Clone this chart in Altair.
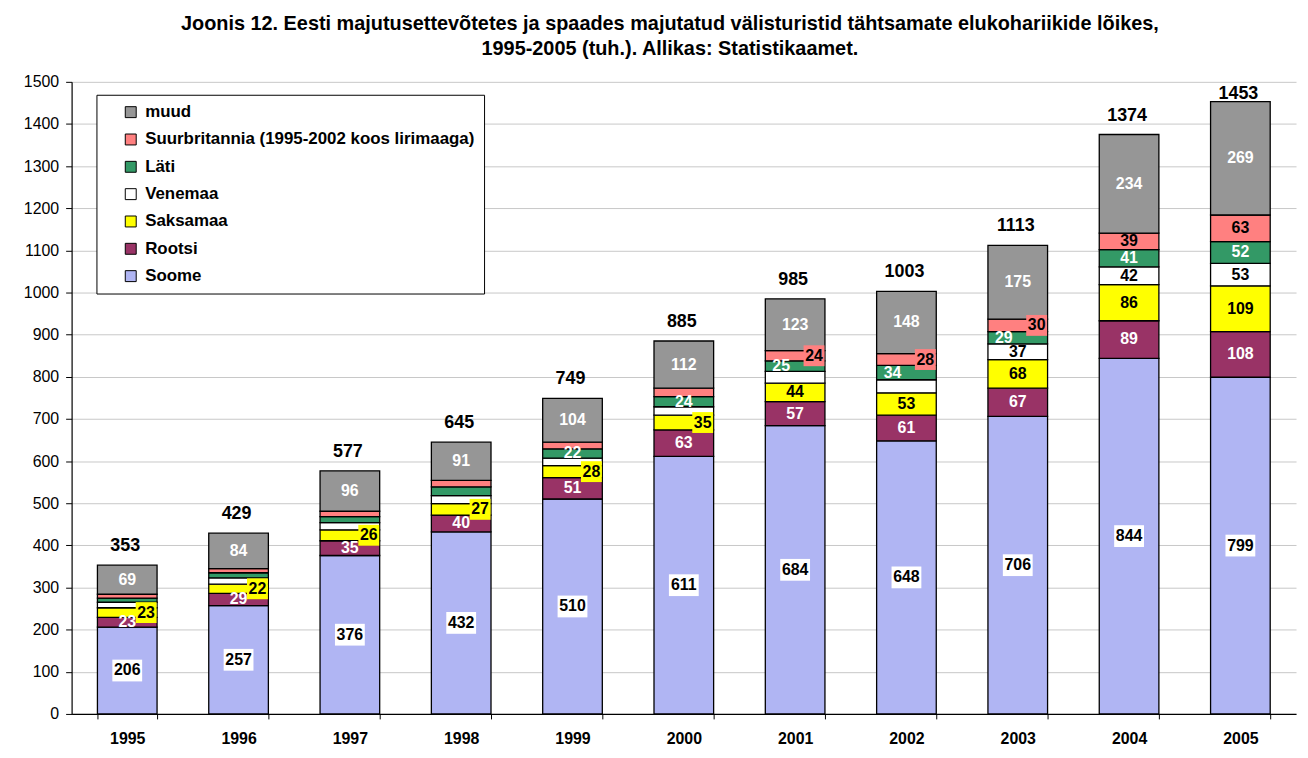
import altair as alt
import pandas as pd

FONT = "Liberation Sans"

years = [1995, 1996, 1997, 1998, 1999, 2000, 2001, 2002, 2003, 2004, 2005]
series_names = ["Soome", "Rootsi", "Saksamaa", "Venemaa", "Läti",
                "Suurbritannia (1995-2002 koos lirimaaga)", "muud"]
soome = [206, 257, 376, 432, 510, 611, 684, 648, 706, 844, 799]
rootsi = [23, 29, 35, 40, 51, 63, 57, 61, 67, 89, 108]
saksamaa = [23, 22, 26, 27, 28, 35, 44, 53, 68, 86, 109]
venemaa = [13, 15, 17, 19, 18, 20, 28, 31, 37, 42, 53]
lati = [10, 12, 14, 21, 22, 24, 25, 34, 29, 41, 52]
suurbritannia = [9, 10, 13, 15, 16, 20, 24, 28, 30, 39, 63]
muud = [69, 84, 96, 91, 104, 112, 123, 148, 175, 234, 269]
totals = [353, 429, 577, 645, 749, 885, 985, 1003, 1113, 1374, 1453]

# first year from which a segment's value is printed
label_from = {"Venemaa": 2003, "Läti": 1999,
              "Suurbritannia (1995-2002 koos lirimaaga)": 2001}

legend_order = ["muud", "Suurbritannia (1995-2002 koos lirimaaga)", "Läti",
                "Venemaa", "Saksamaa", "Rootsi", "Soome"]
legend_colors = ["#969696", "#ff8080", "#339966", "#ffffff", "#ffff00",
                 "#993366", "#b0b5f3"]

title_lines = [
    "Joonis 12. Eesti majutusettevõtetes ja spaades majutatud välisturistid tähtsamate elukohariikide lõikes,",
    "1995-2005 (tuh.). Allikas: Statistikaamet.",
]

all_values = [soome, rootsi, saksamaa, venemaa, lati, suurbritannia, muud]
rows = []
for order, (name, vals) in enumerate(zip(series_names, all_values)):
    for yr, v in zip(years, vals):
        rows.append({"year": str(yr), "series": name, "value": v,
                     "order": order, "show": yr >= label_from.get(name, 0)})
df = pd.DataFrame(rows)
df_tot = pd.DataFrame({"year": [str(y) for y in years], "total": totals})

UK = "Suurbritannia (1995-2002 koos lirimaaga)"
shift_right = (f"(datum.series=='Saksamaa' && +datum.year<=2000) || "
               f"(datum.series=='{UK}' && +datum.year<=2003)")
shift_left = "datum.series=='Läti' && +datum.year>=2001 && +datum.year<=2003"
dark_text = f"indexof(['Soome','Saksamaa','Venemaa','{UK}'], datum.series) >= 0"

xenc = alt.X("year:N", title=None, sort=[str(y) for y in years],
             scale=alt.Scale(paddingInner=0.4643, paddingOuter=0.232))
yaxis = alt.Axis(values=list(range(0, 1501, 100)), title=None, format="d")
yscale = alt.Scale(domain=[0, 1500], nice=False)

base = alt.Chart(df).transform_stack(
    stack="value", groupby=["year"], as_=["y0", "y1"],
    sort=[alt.SortField("order", order="ascending")]
).transform_calculate(mid="(datum.y0 + datum.y1) / 2")

bars = base.mark_bar(stroke="black", strokeWidth=1.3).encode(
    x=xenc,
    y=alt.Y("y0:Q", scale=yscale, axis=yaxis),
    y2="y1:Q",
    color=alt.Color(
        "series:N",
        scale=alt.Scale(domain=legend_order, range=legend_colors),
        legend=alt.Legend(
            orient="none", legendX=25, legendY=13, title=None,
            direction="vertical", symbolType="square", symbolSize=121,
            symbolStrokeColor="black", symbolStrokeWidth=1,
            labelFontSize=17, labelFontWeight="bold", labelFont=FONT,
            labelColor="black", strokeColor="black", fillColor="white",
            padding=9, rowPadding=9.5, symbolOffset=17, labelOffset=6,
            labelLimit=600,
        ),
    ),
)

ymid = alt.Y("mid:Q", scale=yscale, axis=yaxis)

soome_box = base.transform_filter("datum.series=='Soome'").mark_point(
    shape="M-1,-0.73L1,-0.73L1,0.73L-1,0.73Z", size=900, filled=True,
    fill="white", opacity=1, strokeWidth=0
).encode(x=xenc, y=ymid)

side_box = base.transform_filter(f"datum.show && ({shift_right})").mark_point(
    shape="M-1,-1L1,-1L1,1L-1,1Z", size=441, filled=True, opacity=1,
    strokeWidth=0, xOffset=19
).encode(
    x=xenc, y=ymid,
    fill=alt.condition("datum.series=='Saksamaa'", alt.value("#ffff00"),
                       alt.value("#ff8080")),
)

text_props = dict(fontSize=16, fontWeight="bold", font=FONT,
                  align="center", baseline="middle")

center_text = base.transform_filter(
    f"datum.show && !({shift_right}) && !({shift_left})"
).mark_text(**text_props).encode(
    x=xenc, y=ymid, text="value:Q",
    color=alt.condition(dark_text, alt.value("black"), alt.value("white")),
)

right_text = base.transform_filter(f"datum.show && ({shift_right})").mark_text(
    dx=19, color="black", **text_props
).encode(x=xenc, y=ymid, text="value:Q")

left_text = base.transform_filter(f"datum.show && ({shift_left})").mark_text(
    dx=-14, color="white", **text_props
).encode(x=xenc, y=ymid, text="value:Q")

# total labels sit above the bar but are kept inside the plot area
total_text = alt.Chart(df_tot).transform_calculate(
    lab_y="min(datum.total + 45, 1472)"
).mark_text(
    fontSize=18, fontWeight="bold", font=FONT, color="black",
    align="center", baseline="middle", dx=-2
).encode(x=xenc, y=alt.Y("lab_y:Q", scale=yscale, axis=yaxis), text="total:Q")

chart = alt.layer(
    bars, soome_box, side_box, center_text, right_text, left_text, total_text
).properties(
    width=1232, height=636,
    autosize=alt.AutoSizeParams(type="none"),
    padding={"left": 64, "top": 72, "right": 4, "bottom": 34},
    title=alt.TitleParams(
        text=title_lines, fontSize=20, font=FONT, fontWeight="bold",
        color="black", anchor="middle", baseline="bottom", offset=18,
        lineHeight=25, dx=-14, dy=23,
    ),
).configure_view(stroke=None).configure_axisX(
    tickBand="extent", labelFontSize=16, labelFontWeight="bold",
    labelFont=FONT, labelColor="black", domainColor="black",
    tickColor="black", tickSize=5, labelPadding=12, labelAngle=0,
    grid=False, domainWidth=1.2,
).configure_axisY(
    labelFontSize=16, labelFont=FONT, labelColor="black",
    domainColor="black", tickColor="black", tickSize=6, labelPadding=7,
    gridColor="#c8c8c8", gridWidth=1, domainWidth=1.2,
)

chart.save("out.html", embed_options={"renderer": "svg", "actions": False})
